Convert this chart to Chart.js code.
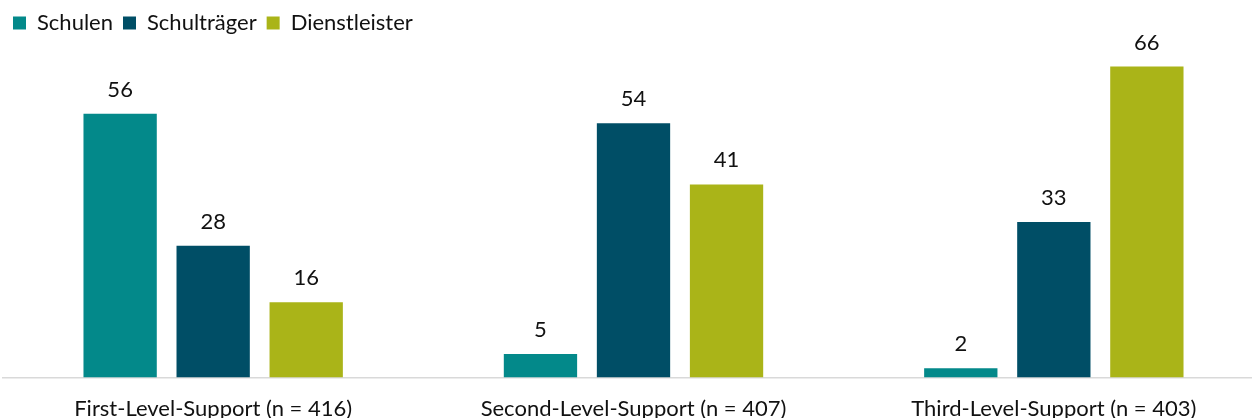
<!DOCTYPE html>
<html lang="de">
<head>
<meta charset="utf-8">
<title>Support-Ebenen</title>
<script src="https://cdn.jsdelivr.net/npm/chart.js@4/dist/chart.umd.min.js"></script>
<style>
  html, body { margin: 0; padding: 0; background: #fff; overflow: hidden; }
  #wrap { width: 1252px; height: 418px; overflow: hidden; position: relative; }
  #chart { position: absolute; left: 0; top: 0; }
</style>
</head>
<body>
<div id="wrap"><canvas id="chart" width="1266" height="440"></canvas></div>
<script>
/* ================= DATA ================= */
const categories = [
  "First-Level-Support (n = 416)",
  "Second-Level-Support (n = 407)",
  "Third-Level-Support (n = 403)"
];
const seriesNames = ["Schulen", "Schulträger", "Dienstleister"];
const schulen = [56, 5, 2];
const schultraeger = [28, 54, 33];
const dienstleister = [16, 41, 66];
const seriesColors = ["#03898A", "#004E66", "#AAB418"];

const FONT = "Lato, 'Noto Sans', sans-serif";
const TEXT = "#111111";

/* ================= VALUE LABELS ================= */
const valueLabels = {
  id: "valueLabels",
  afterDatasetsDraw(chart) {
    const ctx = chart.ctx;
    ctx.save();
    ctx.font = `22px ${FONT}`;
    ctx.fillStyle = TEXT;
    ctx.textAlign = "center";
    ctx.textBaseline = "alphabetic";
    chart.data.datasets.forEach((ds, i) => {
      chart.getDatasetMeta(i).data.forEach((bar, j) => {
        ctx.fillText(String(ds.data[j]), bar.x, bar.y - 17);
      });
    });
    ctx.restore();
  }
};

/* ================= CHART ================= */
const seriesData = [schulen, schultraeger, dienstleister];

new Chart(document.getElementById("chart"), {
  type: "bar",
  data: {
    labels: categories,
    datasets: seriesNames.map((name, i) => ({
      label: name,
      data: seriesData[i],
      backgroundColor: seriesColors[i],
      borderWidth: 0,
      barPercentage: 0.788,
      categoryPercentage: 0.664
    }))
  },
  options: {
    responsive: false,
    animation: false,
    devicePixelRatio: 1,
    layout: { padding: { left: 3, right: 2, top: 2, bottom: 0 } },
    plugins: {
      legend: {
        position: "top",
        align: "start",
        labels: {
          boxWidth: 13,
          boxHeight: 13,
          padding: 10,
          color: TEXT,
          font: { family: FONT, size: 22 }
        }
      },
      tooltip: { enabled: false }
    },
    scales: {
      x: {
        grid: { display: false, drawTicks: false },
        border: { display: true, color: "#D9D9D9", width: 1.5 },
        ticks: {
          color: TEXT,
          padding: 18,
          maxRotation: 0,
          font: { family: FONT, size: 22 }
        }
      },
      y: {
        display: false,
        min: 0,
        max: 70.8
      }
    }
  },
  plugins: [valueLabels]
});
</script>
</body>
</html>
